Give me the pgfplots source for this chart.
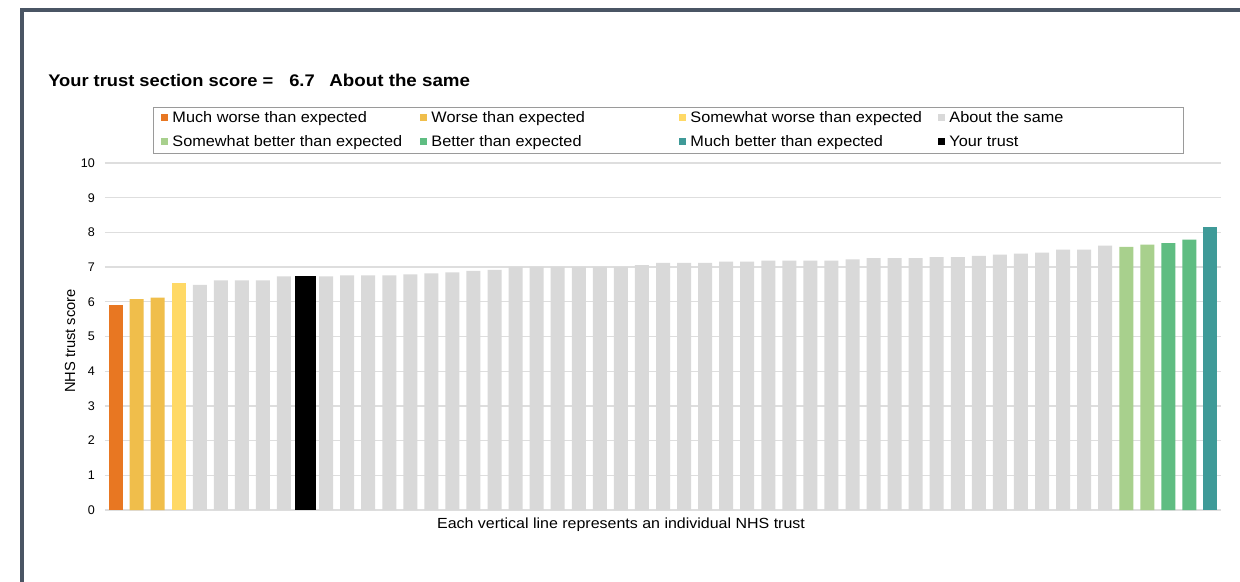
\documentclass[border=0pt]{standalone}
\usepackage{fontspec}
\setmainfont{Liberation Sans}
\newfontfamily\wide[FakeStretch=1.07]{Liberation Sans}
\newfontfamily\widet[FakeStretch=1.09]{Liberation Sans}
\usepackage{pgfplots}
\pgfplotsset{compat=1.18}
\definecolor{cMW}{HTML}{E87722}
\definecolor{cW}{HTML}{F0BE4B}
\definecolor{cSW}{HTML}{FFD966}
\definecolor{cAS}{HTML}{D9D9D9}
\definecolor{cSB}{HTML}{A8D08D}
\definecolor{cB}{HTML}{5FBD82}
\definecolor{cMB}{HTML}{3F9A98}
\definecolor{cgrid}{HTML}{DEDEDE}
\definecolor{cframe}{HTML}{4A5564}
\definecolor{clegbox}{HTML}{9A9A9A}
\begin{document}
\begin{tikzpicture}
\useasboundingbox (-78.75bp,-54bp) rectangle (851.25bp,382.5bp);
\fill[white] (-78.75bp,-54bp) rectangle (851.25bp,382.5bp);
\draw[cframe, line width=3bp] (-62.25bp,-60bp) -- (-62.25bp,375bp) -- (860bp,375bp);
\node[anchor=west, inner sep=0pt, font=\widet\fontsize{12.6bp}{15bp}\selectfont\bfseries] at (-42.75bp,322.5bp) {Your trust section score =\hspace{12bp}6.7\hspace{11bp}\fontsize{12.9bp}{15bp}\selectfont About the same};
\begin{axis}[
  at={(0,0)}, anchor=south west, scale only axis,
  width=837bp, height=260.25bp,
  xmin=-0.5, xmax=52.5, ymin=0, ymax=10,
  ytick={0,1,...,10}, xtick=\empty,
  ymajorgrids, grid style={color=cgrid, line width=1bp},
  axis line style={draw=none},
  major tick length=0pt,
  /pgf/number format/assume math mode=true,
  yticklabel style={font=\fontsize{9.4bp}{11bp}\selectfont, inner sep=0pt, xshift=-7.5bp},
  ylabel={NHS trust score},
  ylabel style={at={(axis description cs:-0.0314,0.487)}, anchor=center, font=\fontsize{11bp}{13bp}\selectfont},
  xlabel={Each vertical line represents an individual NHS trust},
  xlabel style={at={(axis description cs:0.4624,-0.0432)}, anchor=center, font=\widet\fontsize{11bp}{13bp}\selectfont},
  legend columns=4,
  legend image code/.code={\fill[#1] (0bp,-2.6bp) rectangle (5.25bp,2.6bp);},
  legend style={at={(axis description cs:0.043,1.1614)}, anchor=north west,
    draw=clegbox, line width=0.75bp, inner xsep=6bp, inner ysep=2.75bp,
    row sep=7bp, column sep=0pt,
    nodes={inner sep=0pt, text height=8.2bp, text depth=2.8bp, anchor=west, yshift=-0.6bp},
    font=\wide\fontsize{11.4bp}{13bp}\selectfont},
  legend cell align=left,
]
\addplot[ybar, bar width=10.5bp, bar shift=0pt, fill=cMW, draw=none] coordinates {(0,5.92)};
\addlegendentry{\hspace{3bp}\makebox[186bp][l]{Much worse than expected}}
\addplot[ybar, bar width=10.5bp, bar shift=0pt, fill=cW, draw=none] coordinates {(1,6.08) (2,6.12)};
\addlegendentry{\hspace{3bp}\makebox[186bp][l]{Worse than expected}}
\addplot[ybar, bar width=10.5bp, bar shift=0pt, fill=cSW, draw=none] coordinates {(3,6.53)};
\addlegendentry{\hspace{3bp}\makebox[186bp][l]{Somewhat worse than expected}}
\addplot[ybar, bar width=10.5bp, bar shift=0pt, fill=cAS, draw=none] coordinates {
(4,6.49) (5,6.62) (6,6.62) (7,6.62) (8,6.73)
(10,6.73) (11,6.76) (12,6.76) (13,6.76) (14,6.79) (15,6.82) (16,6.85) (17,6.89) (18,6.92)
(19,7.01) (20,7.01) (21,7.01) (22,7.01) (23,7.01) (24,7.01) (25,7.06)
(26,7.12) (27,7.12) (28,7.12) (29,7.16) (30,7.16)
(31,7.19) (32,7.19) (33,7.19) (34,7.19) (35,7.22)
(36,7.26) (37,7.26) (38,7.26) (39,7.29) (40,7.29) (41,7.32) (42,7.36) (43,7.39) (44,7.42)
(45,7.50) (46,7.50) (47,7.62)};
\addlegendentry{\hspace{3bp}\makebox[169.5bp][l]{About the same}}
\addplot[ybar, bar width=10.5bp, bar shift=0pt, fill=cSB, draw=none] coordinates {(48,7.58) (49,7.65)};
\addlegendentry{\hspace{3bp}\makebox[186bp][l]{Somewhat better than expected}}
\addplot[ybar, bar width=10.5bp, bar shift=0pt, fill=cB, draw=none] coordinates {(50,7.69) (51,7.79)};
\addlegendentry{\hspace{3bp}\makebox[186bp][l]{Better than expected}}
\addplot[ybar, bar width=10.5bp, bar shift=0pt, fill=cMB, draw=none] coordinates {(52,8.16)};
\addlegendentry{\hspace{3bp}\makebox[186bp][l]{Much better than expected}}
\addplot[ybar, bar width=15.75bp, bar shift=0pt, fill=black, draw=none] coordinates {(9,6.73)};
\addlegendentry{\hspace{3bp}\makebox[169.5bp][l]{Your trust}}
\end{axis}
\end{tikzpicture}
\end{document}
